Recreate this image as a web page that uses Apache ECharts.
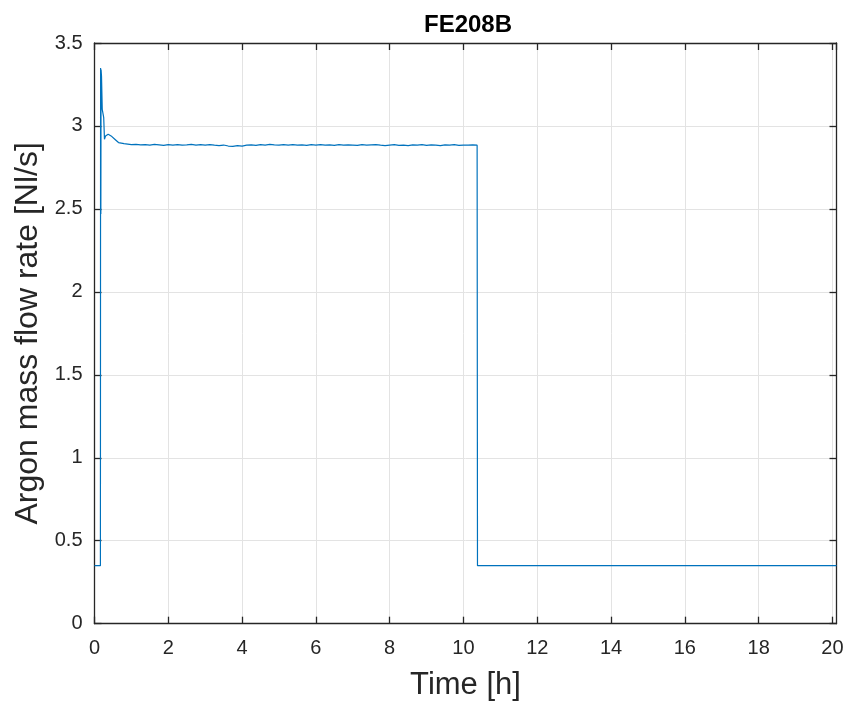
<!DOCTYPE html>
<html>
<head>
<meta charset="utf-8">
<script src="https://cdn.jsdelivr.net/npm/echarts@6/dist/echarts.min.js"></script>
<style>html,body{margin:0;padding:0;background:#fff}#c{width:849px;height:708px}</style>
</head>
<body>
<div id="c"></div>
<script>
const chartTitle = "FE208B";
const xName = "Time [h]";
const yName = "Argon mass flow rate [Nl/s]";
const timeH = [0, 0.16, 0.165, 0.172, 0.178, 0.19, 0.21, 0.25, 0.27, 0.30, 0.37, 0.45, 0.55, 0.65, 0.80, 1.0,
  1.125, 1.25, 1.375, 1.5, 1.625, 1.75, 1.875, 2.0, 2.125, 2.25, 2.375, 2.5, 2.625, 2.75, 2.875, 3.0,
  3.125, 3.25, 3.375, 3.5, 3.625, 3.75, 3.875, 4.0, 4.125, 4.25, 4.375, 4.5, 4.625, 4.75, 4.875, 5.0,
  5.125, 5.25, 5.375, 5.5, 5.625, 5.75, 5.875, 6.0, 6.125, 6.25, 6.375, 6.5, 6.625, 6.75, 6.875, 7.0,
  7.125, 7.25, 7.375, 7.5, 7.625, 7.75, 7.875, 8.0, 8.125, 8.25, 8.375, 8.5, 8.625, 8.75, 8.875, 9.0,
  9.125, 9.25, 9.375, 9.5, 9.625, 9.75, 9.875, 10.0, 10.125, 10.25, 10.37, 10.38, 20.11];
const flowRate = [0.35, 0.35, 3.35, 2.47, 3.34, 3.30, 3.10, 3.05, 2.92, 2.94, 2.95, 2.94, 2.92, 2.90, 2.893, 2.887,
  2.889, 2.886, 2.888, 2.885, 2.889, 2.886, 2.883, 2.888, 2.885, 2.887, 2.884, 2.886, 2.889, 2.884, 2.887, 2.885,
  2.888, 2.884, 2.882, 2.885, 2.879, 2.877, 2.881, 2.878, 2.884, 2.886, 2.883, 2.888, 2.885, 2.889, 2.886, 2.884,
  2.887, 2.885, 2.888, 2.884, 2.886, 2.883, 2.887, 2.885, 2.888, 2.884, 2.886, 2.883, 2.887, 2.884, 2.886, 2.885,
  2.883, 2.887, 2.884, 2.886, 2.888, 2.884, 2.882, 2.885, 2.887, 2.883, 2.885, 2.882, 2.886, 2.884, 2.887, 2.883,
  2.886, 2.884, 2.882, 2.886, 2.884, 2.887, 2.883, 2.885, 2.884, 2.886, 2.884, 0.35, 0.35];
const xMax = 20.11;
const yMax = 3.5;

const data = timeH.map((t, i) => [t, flowRate[i]]);
const axisCol = '#262626';
const font = '"Liberation Sans", Arial, sans-serif';

const chart = echarts.init(document.getElementById('c'), null, {renderer: 'canvas'});
const baseAxis = {
  axisLine: {show: true, onZero: false, lineStyle: {color: axisCol, width: 1.3}},
  axisTick: {show: true, inside: true, length: 7, lineStyle: {color: axisCol, width: 1.3}},
};
chart.setOption({
  animation: false,
  backgroundColor: '#ffffff',
  title: {text: chartTitle, left: 463, textAlign: 'center', top: 8,
    textStyle: {fontFamily: font, fontSize: 24, fontWeight: 'bold', color: '#000'}},
  grid: {left: 94.5, right: 12.5, top: 43, bottom: 84.3, containLabel: false},
  xAxis: [
    Object.assign({}, baseAxis, {
      type: 'value', min: 0, max: xMax, interval: 2, position: 'bottom',
      name: xName, nameLocation: 'middle', nameGap: 46,
      nameTextStyle: {fontFamily: font, fontSize: 31, color: axisCol},
      axisLabel: {showMaxLabel: false, fontFamily: font, fontSize: 20, color: axisCol, margin: 15},
      splitLine: {show: true, lineStyle: {color: '#e3e3e3', width: 1}}
    }),
    Object.assign({}, baseAxis, {
      type: 'value', min: 0, max: xMax, interval: 2, position: 'top',
      axisLabel: {show: false}, splitLine: {show: false}
    })
  ],
  yAxis: [
    Object.assign({}, baseAxis, {
      type: 'value', min: 0, max: yMax, interval: 0.5, position: 'left',
      name: yName, nameLocation: 'middle', nameGap: 50,
      nameTextStyle: {fontFamily: font, fontSize: 32, color: axisCol},
      axisLabel: {fontFamily: font, fontSize: 20, color: axisCol, margin: 12},
      splitLine: {show: true, lineStyle: {color: '#e3e3e3', width: 1}}
    }),
    Object.assign({}, baseAxis, {
      type: 'value', min: 0, max: yMax, interval: 0.5, position: 'right',
      axisLabel: {show: false}, splitLine: {show: false}
    })
  ],
  series: [{
    type: 'line', data: data, xAxisIndex: 0, yAxisIndex: 0,
    showSymbol: false, symbol: 'none',
    lineStyle: {color: '#0072BD', width: 1.2},
    z: 1
  }]
});
</script>
</body>
</html>
